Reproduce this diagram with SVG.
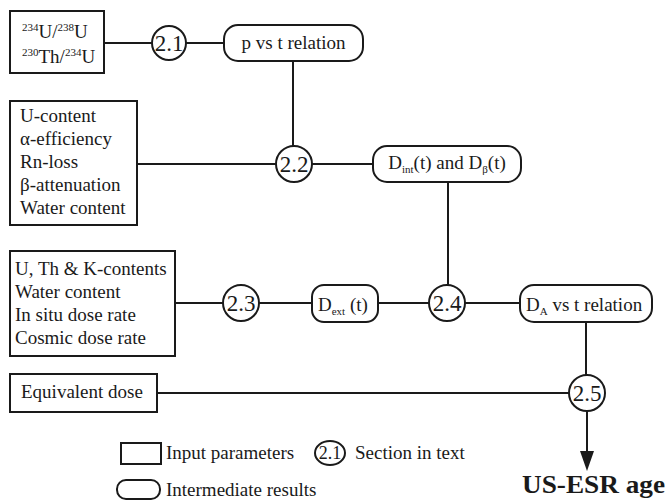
<svg xmlns="http://www.w3.org/2000/svg" width="670" height="502" viewBox="0 0 670 502" font-family="'Liberation Serif','Times New Roman',serif">
<style>
text{font-family:"Liberation Serif","Times New Roman",serif;font-size:19px;fill:#1a1a1a}
.box{fill:#fff;stroke:#1a1a1a;stroke-width:2}
.res{fill:#fff;stroke:#1a1a1a;stroke-width:2}
.sec{fill:#fff;stroke:#1a1a1a;stroke-width:2}
.sec-t{font-size:23px;text-anchor:middle}
.c{text-anchor:middle}
.sup{font-size:11px}
.sub{font-size:11px}
.conn line{stroke:#1a1a1a;stroke-width:2}
.head{fill:#1a1a1a}
</style>
<rect width="670" height="502" fill="#fff"/>
<g id="connectors" class="conn">
<line x1="104" y1="43" x2="152" y2="43"/>
<line x1="186" y1="43" x2="224" y2="43"/>
<line x1="293" y1="61" x2="293" y2="146"/>
<line x1="137" y1="164" x2="276" y2="164"/>
<line x1="312" y1="164" x2="373" y2="164"/>
<line x1="448" y1="182" x2="448" y2="285"/>
<line x1="175" y1="303" x2="223" y2="303"/>
<line x1="259" y1="303" x2="312" y2="303"/>
<line x1="378" y1="303" x2="429" y2="303"/>
<line x1="465" y1="303" x2="520" y2="303"/>
<line x1="586" y1="322" x2="586" y2="375"/>
<line x1="157" y1="393" x2="569" y2="393"/>
<line x1="587" y1="411" x2="587" y2="455"/>
<polygon class="head" points="580,451 594,451 587,471"/>
</g>
<g id="in-ratios">
<rect class="box" x="10" y="11" width="94" height="62"/>
<text x="22" y="38"><tspan class="sup" dy="-7">234</tspan><tspan dy="7">U/</tspan><tspan class="sup" dy="-7">238</tspan><tspan dy="7">U</tspan></text>
<text x="22" y="63"><tspan class="sup" dy="-7">230</tspan><tspan dy="7">Th/</tspan><tspan class="sup" dy="-7">234</tspan><tspan dy="7">U</tspan></text>
</g>
<g id="s21">
<circle class="sec" cx="169" cy="43" r="17"/>
<text class="sec-t" x="169" y="51">2.1</text>
</g>
<g id="p-vs-t">
<rect class="res" x="224" y="25" width="139" height="36" rx="14"/>
<text class="c" x="293.5" y="49">p vs t relation</text>
</g>
<g id="in-internal">
<rect class="box" x="10" y="101" width="127" height="124"/>
<text x="20" y="122">U-content</text>
<text x="20" y="145">α-efficiency</text>
<text x="20" y="168">Rn-loss</text>
<text x="20" y="191">β-attenuation</text>
<text x="20" y="214">Water content</text>
</g>
<g id="s22">
<circle class="sec" cx="294" cy="164" r="18"/>
<text class="sec-t" x="294" y="172">2.2</text>
</g>
<g id="dint">
<rect class="res" x="373" y="146" width="148" height="36" rx="14"/>
<text class="c" x="447" y="169">D<tspan class="sub" dy="4">int</tspan><tspan dy="-4">(t) and D</tspan><tspan class="sub" dy="4">β</tspan><tspan dy="-4">(t)</tspan></text>
</g>
<g id="in-external">
<rect class="box" x="10" y="251" width="165" height="105"/>
<text x="15" y="275">U, Th &amp; K-contents</text>
<text x="15" y="298">Water content</text>
<text x="15" y="321">In situ dose rate</text>
<text x="15" y="344">Cosmic dose rate</text>
</g>
<g id="s23">
<circle class="sec" cx="241" cy="303" r="18"/>
<text class="sec-t" x="241" y="311">2.3</text>
</g>
<g id="dext">
<rect class="res" x="312" y="285" width="66" height="37" rx="12"/>
<text x="318" y="311">D<tspan class="sub" dy="4">ext</tspan><tspan dy="-4"> (t)</tspan></text>
</g>
<g id="s24">
<circle class="sec" cx="447" cy="303" r="18"/>
<text class="sec-t" x="447" y="311">2.4</text>
</g>
<g id="da-vs-t">
<rect class="res" x="520" y="285" width="132" height="37" rx="14"/>
<text x="526" y="311">D<tspan class="sub" dy="4">A</tspan><tspan dy="-4"> vs t relation</tspan></text>
</g>
<g id="in-de">
<rect class="box" x="10" y="374" width="147" height="38"/>
<text x="21" y="398">Equivalent dose</text>
</g>
<g id="s25">
<circle class="sec" cx="587" cy="393" r="18"/>
<text class="sec-t" x="587" y="401">2.5</text>
</g>
<g id="result">
<text x="522" y="493" font-weight="bold" style="font-size:26px" textLength="143" lengthAdjust="spacingAndGlyphs">US-ESR age</text>
</g>
<g id="legend">
<rect class="box" x="121" y="443" width="40" height="21"/>
<text x="166" y="459">Input parameters</text>
<ellipse class="sec" cx="330" cy="453" rx="15" ry="12"/>
<text class="c" x="330" y="459" style="font-size:18px">2.1</text>
<text x="355" y="459">Section in text</text>
<rect class="res" x="117" y="480" width="43" height="19" rx="9"/>
<text x="166" y="496">Intermediate results</text>
</g>
</svg>
